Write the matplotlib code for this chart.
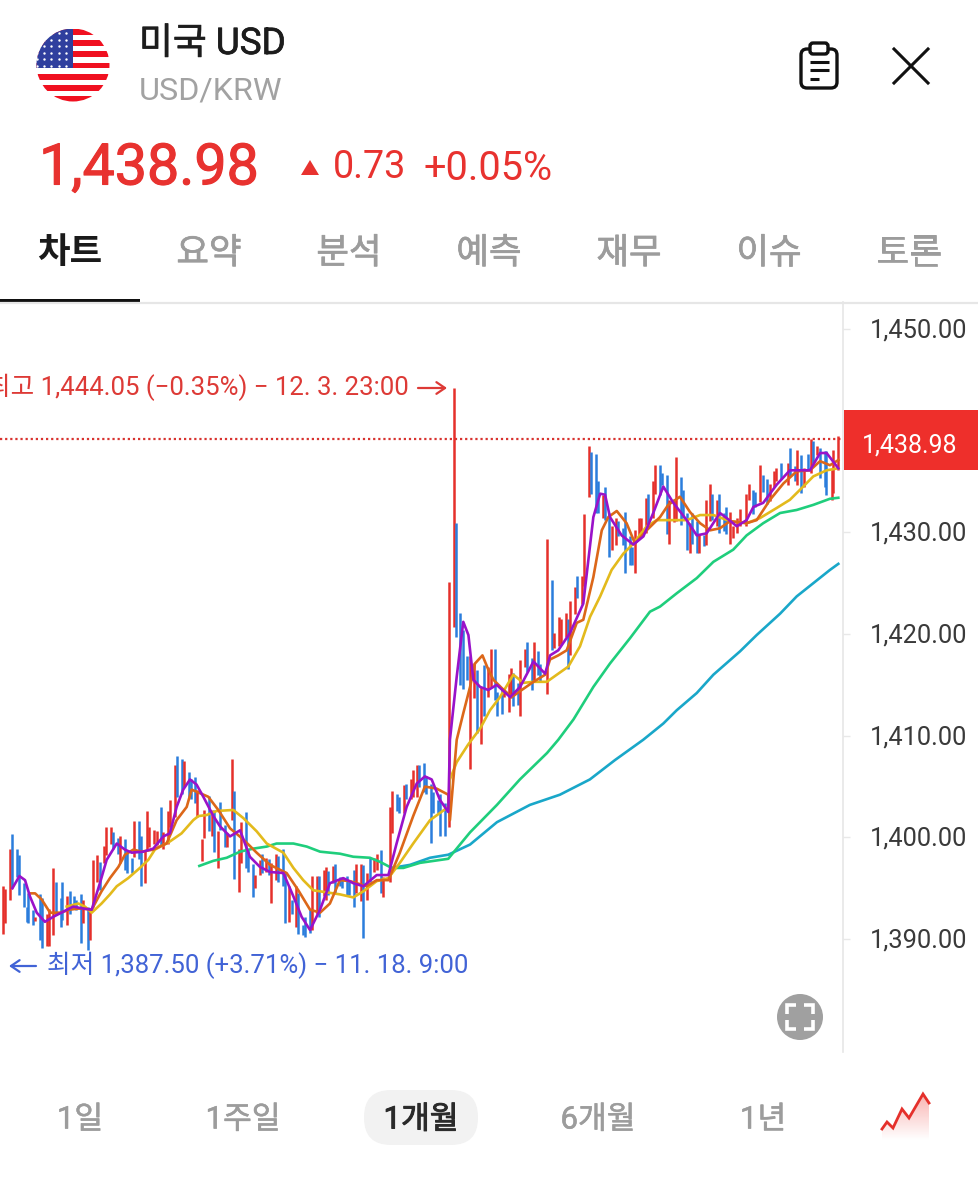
import numpy as np
import matplotlib
matplotlib.use("Agg")
import matplotlib.pyplot as plt
from matplotlib.patches import Circle, FancyBboxPatch, Rectangle, Polygon
from matplotlib.colors import LinearSegmentedColormap
from matplotlib.transforms import ScaledTranslation
import matplotlib.patheffects as pe

plt.rcParams['font.family'] = ['Roboto', 'Noto Sans CJK KR', 'DejaVu Sans']

# ---------- data ----------
candle_time = [
 1.4,2.3,4.3,5.3,7.1,8.1,10.3,11.4,12.1,14.1,15,17.1,18.1,19.9,20.9,22.8,23.8,25.9,26.6,28.8,29.8,31.6,32.6,34.6,35.6,37.6,38.6,39.6,41.6,42.6,44.4,45.4,47.4,48.4,50.4,51.4,53.4,54.1,56.4,57.3,59.3,
 60.2,62,63,63.8,65.9,66.9,68.9,69.8,71.9,72.6,74.8,75.6,77.6,78.6,80.6,81.5,83.4,84.4,86.4,87.3,89.4,90.4,91.4,93.3,94.1,96.3,97.1,99.1,100.1,102.1,103,105.1,106.1,108,109,111,112,113.8,114.8,115.8,117.8,118.8,
 120.8,121.7,123.7,124.7,126.7,127.5,129.7,130.5,132.5,133.5,135.5,136.2,138.5,139.2,140.4,142.2,143.2,145.3,146.2,148.2,149,151.2,152,154.2,155,157,158,160,161,162.9,163.7,166.7,167.7,169.7,170.7,172.7,173.5,175.5,176.4,178.4,179.2,181.4,182.2,184.4,185.1,187.2,188.1,190.1,
 192,194,194.8,196.8,197.8,199.8,200.8,202.8,203.7,205.7,206.7,208.7,209.7,211.5,212.5,214.5,215.5,217.5,218.3,219.3,221.3,222.3,224.3,225.2,227.3,228.2,230,231,234,236,236.9,238.9,239.7,241.8,242.8,243.8,245.8,246.7,248.7,249.7,
 251.7,252.6,254.6,255.5,257.6,258.4,260.4,261.4,263.4,264.3,266.4,267.3,269.3,270.1,271.3,273.3,274.1,276.2,277.1,279.1,280.1,282.1,282.9,284.9,285.9,288,288.9,290.9,291.8,293.8,294.8,295.8,297.8,298.8,300.7,301.7,
 303.4,304.4,306.4,307.4,309.4,310.2,312.2,313.2,315.2,316.2,319,320,322,322.9,325,325.9,327.9,328.9,330.9,331.7,333.7,336.8,337.6,339.7,340.6,342.5,343.5,345.5,346.5,347.4,349.4,350.4,352.4,353.2,355.4,356.2,358.2,
]
candle_high = [
 1395.2,1394.9,1398.9,1400.3,1398.9,1398.3,1395.5,1393.2,1394.5,1392.9,1392.2,1394.4,1394,1392.5,1393,1397,1395.6,1394,1395.6,1394.2,1394.7,1394.2,1393.8,1394.4,1393.8,1393.2,1393,1397.8,1398.3,1397.6,1399.2,1401,1401,1400.5,1399.9,1400.1,1399.8,1398.6,1398,1401.6,1401.6,
 1400.1,1398.8,1402.6,1401,1400.7,1400.6,1403,1400.5,1402.6,1403.7,1407.1,1408,1407.7,1407.5,1406.4,1405.7,1405.9,1404.7,1399.8,1402.7,1404.1,1402.7,1402.7,1400.6,1403.5,1401.2,1400.4,1407.7,1404.6,1398.9,1401.5,1402.5,1398.8,1397.4,1396.3,1397.8,1398.4,1398,1397.9,1397.5,1398.4,1398.2,
 1398.9,1396.5,1395.2,1393.8,1395.2,1394.5,1391.4,1392.2,1393,1396.2,1396.2,1396.2,1396.8,1397.1,1396.7,1397.2,1397.4,1396.1,1396,1396.2,1395.6,1396.8,1397.4,1397.4,1397.3,1396.5,1398,1398,1398.4,1398.8,1396.1,1403,1404.6,1404.3,1404,1405.2,1405.3,1405.7,1406.6,1407.1,1407.1,1407.3,1406,1405.3,1404.5,1403.7,1404.3,1403.4,
 1425.1,1444.2,1430.9,1422.1,1420.4,1417.8,1417.8,1417.2,1416.5,1414.8,1417,1416.8,1418.5,1418.5,1414.3,1414.7,1414.5,1416.1,1416.7,1416.2,1415.2,1417.4,1418.5,1419.2,1417.6,1419.2,1418.3,1417.1,1429.3,1425.3,1420.1,1421.7,1421.5,1422.1,1421.5,1423.2,1424.6,1425.7,1425.7,1431.8,
 1438.5,1437.9,1437.7,1435,1433.7,1434.5,1431.9,1430.6,1431.4,1431.1,1430.4,1432,1429.6,1428.6,1430.2,1431.4,1431.4,1433.4,1433.8,1435,1436.6,1436.6,1435.8,1435.6,1433.2,1433.3,1437.4,1435.4,1434.2,1431.9,1430.9,1431.9,1431.1,1429.7,1429.7,1433.2,
 1434.8,1433.8,1433.2,1433.8,1431.9,1432.5,1432,1430.6,1431.4,1432.3,1433.8,1434.8,1434.2,1434,1436.6,1435.6,1435.2,1434.8,1436,1436.3,1436.8,1436.8,1438.3,1436.5,1438.1,1437.6,1436.3,1437.7,1439.2,1439,1438.5,1438.3,1438,1438,1436.1,1438.1,1439.5,
]
candle_low = [
 1390.5,1391.6,1393.8,1395,1396.1,1394.3,1393.2,1391.7,1391.6,1391.4,1391.8,1389.9,1389.1,1389.3,1389.3,1390.4,1392.4,1391.2,1391.9,1391.4,1392.5,1393.2,1392.9,1389.6,1391.6,1388.9,1389.9,1393.2,1395.6,1394.8,1397.5,1398.3,1399.4,1398.9,1398.4,1397.5,1396.8,1396.5,1396.5,1398.1,1397.9,
 1395.2,1395.5,1398.8,1399.1,1399.4,1399.3,1399.3,1398.9,1399.4,1401,1402,1404,1404.3,1405,1404,1403.8,1403.4,1402,1397.7,1399.9,1400.6,1400.1,1398.6,1397,1400.7,1399.1,1399.1,1401.7,1395.9,1394.6,1397.5,1397,1396.6,1394.1,1395,1396.3,1396.5,1396.6,1396.3,1393.6,1395.8,1395.6,
 1395.2,1391.6,1391.7,1392.5,1391.2,1390.5,1390.4,1390.2,1390.6,1390.9,1392.5,1392.2,1394.2,1393.8,1394.3,1395.5,1394.5,1395.2,1395,1394.3,1394.3,1393.2,1394.5,1393.7,1390.1,1393.8,1395.6,1396.6,1396.8,1394.5,1394.1,1395.6,1400.4,1402.6,1402.4,1402.4,1403.8,1403.8,1404,1404,1405,1404.5,1404.3,1399.5,1402.4,1402.4,1400.1,1400.1,
 1401,1420.7,1419.7,1415,1414.6,1415.5,1406.7,1413.7,1410.3,1409.2,1411.9,1413.8,1414.8,1413.5,1411.9,1412.1,1413.8,1412.3,1413.7,1412.9,1413,1411.9,1416.8,1416.3,1414.5,1415.5,1416,1415.3,1414.1,1418.4,1418.6,1418.8,1419,1419.7,1416.6,1417.9,1422,1423.5,1423,1424.7,
 1433.5,1433.8,1431.9,1431.9,1431.4,1431.2,1427.6,1428.3,1428.8,1429.6,1428.8,1426,1426.8,1426.8,1426,1429.4,1429.6,1429.9,1430.6,1431.4,1433.8,1433.7,1434.7,1429.8,1428.9,1431,1431.1,1430.7,1431.4,1428.3,1428,1428.9,1428,1428,1428.7,1428.8,
 1431.1,1431.2,1430.6,1429.9,1430.1,1429.8,1428.9,1429.4,1429.9,1430.6,1430.6,1433.2,1431.8,1432.5,1433,1434,1432.8,1433.1,1434.5,1435,1435.2,1434.7,1435.5,1435,1434.7,1433.9,1434.5,1436.1,1435.8,1436.8,1437.6,1435.3,1434.5,1433.7,1433.2,1433.9,1436.1,
]
candle_dir = ("rrrbbbbbbbrbbrrrbbbrbbbbrbrrrbrrrbbrbbbrb"
              "brrrrrbrrrrbbrbbbrrrbrbrbbrrbrrbbbrrbrbrrb"
              "bbrbrbbbbrrbrrbrbbbbbbrrbrbrrbrrrbbrbrrrbbbbbbbb"
              "rrbbbbrrbrbrrbbbrrrbbrrbbrbbrbrrrrbrrbrr"
              "rbbbrbbrrbbbbbrrrrbrrbbbrrrbbbrbbrbr"
              "rbrbbbrrrrrrbbrbbrrrbrbbrbrbrbrbbbrrr")

ma5_time = [5.3,8.3,10.7,12.8,15.7,19.2,22.8,27.1,31.3,35.6,39.2,42.7,45.6,49.9,53.4,56.3,61.3,65.5,69.8,72.6,75.5,78.3,81.2,84,86.9,91.2,94,98.3,102.6,106.8,111.1,115.4,121.1,125.4,128.9,132.5,136.8,141,146.7,151,155.3,161,166,169.5,173.8,178.1,181.6,184.5,188,191.6,
 192.3,195.2,198,200.2,202.3,205.2,208.7,212.3,218,222.3,228,233,235.1,238.6,243.6,249.3,253.6,256.5,258.6,260.7,265.7,270.7,275,279.2,283.5,287.8,293.5,297.8,302,307.7,310.6,314.9,319.1,322,326.2,332,337.6,341.9,346.2,350.5,353.3,358.3]
ma5_value = [1395,1396.2,1395.8,1394.2,1392.6,1391.7,1392.2,1392.7,1393.2,1393,1392.9,1395.5,1397.8,1399.4,1398.8,1398.5,1398.6,1398.9,1400.1,1400.4,1403,1404.7,1405.7,1405.2,1404,1402.1,1401.1,1400.1,1400.7,1398.1,1397.1,1396.6,1396.5,1394.2,1392.2,1390.9,1392.9,1395.5,1396,1395.5,1395.2,1396.3,1396.3,1399.4,1403,1405.3,1406,1405.7,1403.7,1402.5,
 1409.6,1415.8,1421.2,1419.9,1415.5,1414.8,1414.5,1415,1413.8,1414.8,1417.3,1416.1,1417.9,1418.4,1420.1,1423,1431.5,1433.8,1433.7,1431.5,1429.7,1428.8,1429.6,1431.9,1434.5,1432.9,1431.2,1429.7,1429.9,1431.9,1431.4,1430.6,1431.2,1432.5,1432.9,1434.7,1436.1,1436.1,1436.1,1437.8,1437.8,1436.3]

ma10_time = [12.5,15,17.8,21.4,25.6,29.9,33.5,35.6,39.2,43.4,47,50.6,53.4,57,60.5,65.5,71.2,75.5,79.8,81.9,84,89,93.3,98.3,104,109.7,115.4,122.5,127.5,132.5,136.8,141,145.3,149.6,156.7,161,166,170.9,176.6,181.6,186.6,191.6,192.3,
 195.2,198,200.9,203,206.2,208.7,210.9,214.4,218.7,223,228,233,235.1,238.6,242.2,246.5,249.3,253.6,257.2,260,263.6,267.8,271.4,276.4,282.1,285.6,290.6,294.9,299.2,303.5,307.7,312,319.1,323.4,329.1,334.8,340.5,346.2,350.5,354.7,358.3]
ma10_value = [1394.5,1394.5,1393.9,1392.6,1392.6,1392.9,1393,1393,1392.9,1394.7,1396,1397.1,1398.3,1398.8,1398.6,1398.8,1399.4,1401.7,1403,1404.7,1404.5,1404,1402.7,1400.9,1399.8,1398.5,1397.3,1396.5,1394.8,1392.9,1392.6,1393.5,1395.8,1395.7,1395.2,1395.8,1395.8,1398.5,1402.1,1405,1404.8,1404.2,1401.7,
 1409.6,1412.2,1414.8,1417.1,1417.9,1416.5,1415.5,1414.7,1413.8,1414.5,1415.3,1416,1417.5,1417.9,1418.4,1421.1,1421.4,1425.6,1430.2,1431.5,1432.1,1430.9,1428.9,1430.2,1431.5,1432.7,1433.5,1432,1430.9,1430.2,1430.4,1431.1,1430.9,1431.2,1433.2,1434.8,1436,1436.1,1437,1436.6,1437.1]

ma20_time = [28.5,33.5,36.3,39.2,43.4,47,49.9,54.8,59.8,63.4,66.2,72.6,77.6,82.6,84.8,88.3,92.6,99.7,104,109.7,114,121.1,125.4,129.6,133.9,139.6,145.3,151,155.3,161,166,170.9,176.6,183.8,191.6,192.3,195.2,200,
 201.6,205.2,209.4,213.7,219.4,223.7,228,233.7,238.6,242.9,247.9,252.2,256.5,261.4,266.4,270.7,276.4,280.7,286.4,293.5,299.2,304.9,312,319.1,324.8,332,337.6,343.3,347.6,353.3,358.3]
ma20_value = [1393.2,1393.5,1393.2,1392.6,1393.5,1394.4,1395.2,1396,1397,1397.8,1398.8,1399.6,1400.4,1401.7,1402.1,1402.2,1402.6,1402.7,1401.9,1400.6,1399.4,1398.5,1397,1395.8,1394.8,1394.6,1394.4,1394.1,1394.7,1395.7,1396,1397.5,1399.4,1401.7,1403,1405.7,1407.4,1409.1,
 1409.6,1410.7,1412.5,1413.8,1416,1415.2,1415.3,1415.3,1416.1,1416.8,1418.8,1421.7,1423.7,1426.3,1427.9,1428.9,1430.6,1431.2,1431.2,1431.2,1431.7,1431.7,1431.1,1430.9,1431.4,1432.4,1433.2,1434.5,1435.5,1436.1,1436.3]

ma60_time = [85.2,91.2,96.9,102.6,108.3,114,118.2,125.4,131.1,136.8,145.3,151,158.1,162.4,167.4,172.4,179.5,191.6,192.3,200.9,212.4,222.2,233.8,238.6,245.1,253.6,260.7,269.3,277.8,282.1,289.2,297.8,304.9,313.4,319.1,326.2,333.4,340.5,347.6,354.7,358.3]
ma60_value = [1397.2,1397.7,1398,1398.6,1398.9,1399.1,1399.4,1399.4,1399.1,1398.6,1398.4,1398.1,1398,1397.6,1397,1397,1397.5,1397.9,1398.1,1400.5,1403.2,1405.7,1408.3,1409.6,1411.6,1414.8,1417.1,1419.6,1422.2,1422.7,1424,1425.5,1427.1,1428.3,1429.7,1430.9,1431.9,1432.2,1432.7,1433.3,1433.4]

ma120_time = [167.4,175.2,183.8,191.6,200.9,212.4,226.5,239.3,252.1,262.8,274.9,283.5,289.2,297.8,304.9,316.3,323.4,333.4,340.5,347.6,354.7,358.3]
ma120_value = [1397,1397.3,1398,1398.3,1399.3,1401.5,1403.2,1404.2,1405.7,1407.6,1409.6,1411.2,1412.5,1414.2,1416,1418.3,1419.9,1422,1423.7,1425,1426.3,1426.9]

y_ticks = [1390, 1400, 1410, 1420, 1430, 1440, 1450]
y_tick_labels = ['1,390.00', '1,400.00', '1,410.00', '1,420.00', '1,430.00', '', '1,450.00']
last_price_line = 1439.2
high_time, high_value = 194, 1444.2

tab_labels = ['차트', '요약', '분석', '예측', '재무', '이슈', '토론']
range_labels = ['1일', '1주일', '1개월', '6개월', '1년']

spark_time = [0, 5, 11, 20, 27, 41, 47]
spark_value = [0, 7, 1, 20, 11, 35, 26]

RED = '#e5302b'
BLUE = '#2b7ddc'
TEXTRED = '#e8322f'

# ---------- figure ----------
W, H = 979, 1200
fig = plt.figure(figsize=(W / 100, H / 100), dpi=100, facecolor='white')


def heavier(color, width=0.5):
    return [pe.withStroke(linewidth=width, foreground=color)]


# chart axes: x 0..843 px, y 302..1052 px
ax = fig.add_axes([0, (H - 1052) / H, 843 / W, 750 / H])
ax.set_xlim(0, 360.3)
ax.set_ylim(1378.9, 1452.65)
ax.set_facecolor('none')
for s in ['top', 'left', 'bottom']:
    ax.spines[s].set_visible(False)
ax.spines['right'].set_color('#e6e6e6')
ax.spines['right'].set_linewidth(1.2)
ax.set_xticks([])
ax.yaxis.tick_right()
ax.set_yticks(y_ticks)
ax.set_yticklabels(y_tick_labels)
ax.tick_params(axis='y', length=5, width=1, color='#e8e8e8', labelsize=18.4,
               labelcolor='#3a3a3a', pad=14)
for lab in ax.get_yticklabels():
    lab.set_transform(lab.get_transform() + ScaledTranslation(0, 0.8 / 72, fig.dpi_scale_trans))

colors = [RED if d == 'r' else BLUE for d in candle_dir]
ax.vlines(candle_time, candle_low, candle_high, colors=colors, linewidth=1.8, zorder=2)

ax.axhline(last_price_line, color='#d8332f', lw=1.6, ls=(0, (1, 1.3)), zorder=1)

for t, v, c in [(ma120_time, ma120_value, '#19a7c9'),
                (ma60_time, ma60_value, '#1fce7c'),
                (ma20_time, ma20_value, '#e3ba1c'),
                (ma10_time, ma10_value, '#dc6719'),
                (ma5_time, ma5_value, '#9a12c9')]:
    ax.plot(t, v, color=c, lw=1.9, solid_joinstyle='round', zorder=3)

ax.text(high_time, high_value, '최고 1,444.05 (−0.35%) − 12. 3. 23:00',
        transform=ax.transData + matplotlib.transforms.Affine2D().translate(-45, 1),
        ha='right', va='center', fontsize=18.5, color='#dd3a36', clip_on=True)

# screen furniture in pixel coordinates
ui = fig.add_axes([0, 0, 1, 1], zorder=5)
ui.set_xlim(0, W)
ui.set_ylim(H, 0)
ui.axis('off')
ui.patch.set_alpha(0)

ui.text(47, 965, '최저 1,387.50 (+3.71%) − 11. 18. 9:00', fontsize=18.5, color='#4163d6', ha='left', va='center')
ui.annotate('', xy=(9, 966), xytext=(36, 966),
            arrowprops=dict(arrowstyle='->,head_length=0.62,head_width=0.42', color='#4163d6', lw=1.6,
                            shrinkA=0, shrinkB=0))
ui.annotate('', xy=(447, 388), xytext=(418, 388),
            arrowprops=dict(arrowstyle='->,head_length=0.62,head_width=0.42', color='#dd3a36', lw=1.6,
                            shrinkA=0, shrinkB=0))

# flag
clip = Circle((73, 65), 36.5, transform=ui.transData, fc='white', ec='none')
ui.add_patch(clip)
stripe_h = 73 / 13
for i in range(0, 13, 2):
    r = Rectangle((30, 29 + i * stripe_h), 90, stripe_h, fc='#f01020', ec='none')
    ui.add_patch(r)
    r.set_clip_path(clip)
canton = Rectangle((30, 29), 43, 7 * stripe_h, fc='#2f3f9e', ec='none')
ui.add_patch(canton)
canton.set_clip_path(clip)
sx, sy = np.meshgrid(np.arange(37, 73, 7.2), np.arange(33, 68, 6.6))
stars = ui.scatter(sx.ravel(), sy.ravel(), s=3, c='white', linewidths=0)
stars.set_clip_path(clip)

ui.text(139, 44, '미국 USD', fontsize=26.5, color='#1c1c1c', va='center', ha='left',
        path_effects=heavier('#1c1c1c'))
ui.text(139, 91, 'USD/KRW', fontsize=23.3, color='#a2a2a2', va='center', ha='left')

# clipboard icon
ui.add_patch(FancyBboxPatch((801, 49), 36, 39, boxstyle='round,pad=0,rounding_size=6', fc='white', ec='#111111', lw=2.4))
ui.add_patch(FancyBboxPatch((810, 43), 18, 11, boxstyle='round,pad=0,rounding_size=3', fc='white', ec='#111111', lw=2.4))
for y0, x1 in [(62, 829), (70, 829), (79, 819)]:
    ui.plot([810, x1], [y0, y0], color='#111111', lw=2.2, solid_capstyle='butt')
# close icon
ui.plot([894, 928], [49, 83], color='#111111', lw=2.2)
ui.plot([928, 894], [49, 83], color='#111111', lw=2.2)

# price row
ui.text(39, 169, '1,438.98', fontsize=41.3, color=TEXTRED, va='center', ha='left',
        path_effects=heavier(TEXTRED, 0.8))
ui.add_patch(Polygon([[301, 175], [319, 175], [310, 160]], closed=True, fc=TEXTRED, ec='none'))
ui.text(333, 168, '0.73', fontsize=27.2, color=TEXTRED, va='center', ha='left')
ui.text(424, 168, '+0.05%', fontsize=28.6, color=TEXTRED, va='center', ha='left')

# tabs
tab_centers = [70, 209, 349, 489, 629, 769, 909]
for i, (cx, lab) in enumerate(zip(tab_centers, tab_labels)):
    ui.text(cx, 254, lab, fontsize=25.5, ha='center', va='center',
            color='#1a1a1a' if i == 0 else '#9c9c9c', weight='bold' if i == 0 else 'normal',
            path_effects=None if i == 0 else heavier('#9c9c9c', 0.5))
ui.plot([0, W], [302.5, 302.5], color='#e6e6e6', lw=1.6, solid_capstyle='butt')
ui.add_patch(Rectangle((0, 299), 140, 4, fc='#111111', ec='none'))

# current price box
ui.add_patch(Rectangle((844, 410), 135, 60, fc='#ee2f2b', ec='none'))
ui.text(910, 446, '1,438.98', fontsize=18, color='white', ha='center', va='center')

# expand button
ui.add_patch(Circle((800, 1017), 23, fc='#a0a0a0', ec='none'))
for cx, cy, dx, dy in [(787, 1005, 1, 1), (813, 1005, -1, 1), (787, 1029, 1, -1), (813, 1029, -1, -1)]:
    ui.plot([cx + 9 * dx, cx, cx], [cy, cy, cy + 9 * dy], color='white', lw=2.6,
            solid_joinstyle='miter', solid_capstyle='butt')

# range selector
ui.add_patch(FancyBboxPatch((364, 1090), 114, 55, boxstyle='round,pad=0,rounding_size=27',
                            fc='#f2f2f2', ec='none'))
range_centers = [80, 243, 421, 598, 763]
for i, (cx, lab) in enumerate(zip(range_centers, range_labels)):
    ui.text(cx, 1120, lab, fontsize=22.5, ha='center', va='center',
            color='#2a2a2a' if i == 2 else '#9c9c9c', weight='normal',
            path_effects=heavier('#2a2a2a' if i == 2 else '#9c9c9c', 0.7 if i == 2 else 0.4))

# sparkline icon
sp = fig.add_axes([882 / W, (H - 1140) / H, 47 / W, 46 / H], zorder=6)
sp.set_xlim(0, 47)
sp.set_ylim(-11, 35)
sp.axis('off')
sp.patch.set_alpha(0)
cmap = LinearSegmentedColormap.from_list('fade', ['#f9b4b2', '#ffffff'])
im = sp.imshow(np.linspace(0, 1, 64).reshape(-1, 1), extent=(0, 47, -11, 35), aspect='auto',
               cmap=cmap, zorder=1)
sp.set_xlim(0, 47)
sp.set_ylim(-11, 35)
fill = sp.fill_between(spark_time, spark_value, -11, color='none')
im.set_clip_path(fill.get_paths()[0], transform=sp.transData)
sp.plot(spark_time, spark_value, color='#e5302b', lw=2.0, solid_joinstyle='miter', zorder=2, clip_on=False)

fig.savefig('out.png', dpi=100, facecolor='white')
